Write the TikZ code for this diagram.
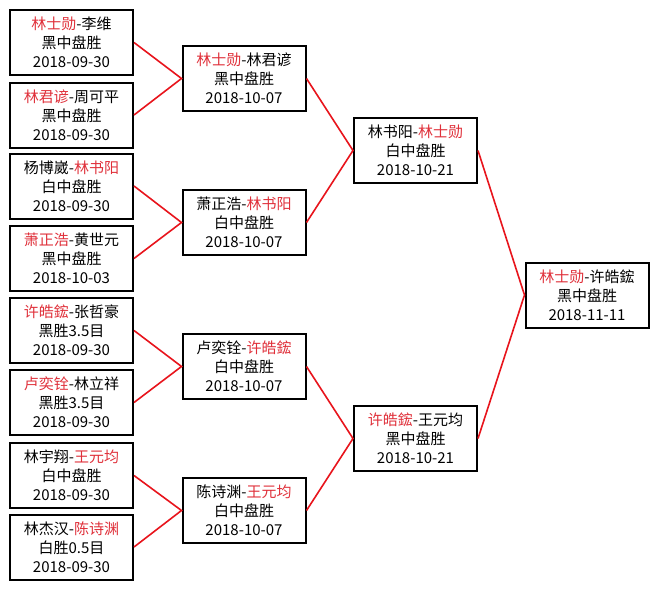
\documentclass[tikz,border=0pt]{standalone}
\usepackage{fontspec}
\usepackage{tikz}
\usepackage{xcolor}
\newfontfamily\cjk{Noto Sans CJK SC}
\definecolor{linkred}{HTML}{E8141C}
\definecolor{winred}{HTML}{E0303A}
\newcommand{\win}[1]{\textcolor{winred}{#1}}
\tikzset{
  game/.style={draw=black,fill=white,line width=2pt,
               minimum width=123pt,minimum height=65pt,inner sep=0pt,
               align=center,font=\cjk\fontsize{15}{19}\selectfont},
  link/.style={draw=linkred,line width=1.6pt}
}

\begin{document}
\begin{tikzpicture}[x=1pt,y=-1pt]
    \path[use as bounding box,fill=white] (0,0) rectangle (659,589);

    % first round
    \node[game] (r1a) at (71.5,42.5)  {\win{林士勋}-李维\\黑中盘胜\\2018-09-30};
    \node[game] (r1b) at (71.5,115)   {\win{林君谚}-周可平\\黑中盘胜\\2018-09-30};
    \node[game] (r1c) at (71.5,186)   {杨博崴-\win{林书阳}\\白中盘胜\\2018-09-30};
    \node[game] (r1d) at (71.5,258.5) {\win{萧正浩}-黄世元\\黑中盘胜\\2018-10-03};
    \node[game] (r1e) at (71.5,330.5) {\win{许皓鋐}-张哲豪\\黑胜3.5目\\2018-09-30};
    \node[game] (r1f) at (71.5,402.5) {\win{卢奕铨}-林立祥\\黑胜3.5目\\2018-09-30};
    \node[game] (r1g) at (71.5,475.5) {林宇翔-\win{王元均}\\白中盘胜\\2018-09-30};
    \node[game] (r1h) at (71.5,547)   {林杰汉-\win{陈诗渊}\\白胜0.5目\\2018-09-30};

    % second round
    \node[game] (r2a) at (244,78.5)  {\win{林士勋}-林君谚\\黑中盘胜\\2018-10-07};
    \node[game] (r2b) at (244,222.5) {萧正浩-\win{林书阳}\\白中盘胜\\2018-10-07};
    \node[game] (r2c) at (244,366.5) {卢奕铨-\win{许皓鋐}\\白中盘胜\\2018-10-07};
    \node[game] (r2d) at (244,510.5) {陈诗渊-\win{王元均}\\白中盘胜\\2018-10-07};

    % semifinals
    \node[game] (r3a) at (415.5,150.5) {林书阳-\win{林士勋}\\白中盘胜\\2018-10-21};
    \node[game] (r3b) at (415.5,438.5) {\win{许皓鋐}-王元均\\黑中盘胜\\2018-10-21};

    % final
    \node[game] (fin) at (587,295) {\win{林士勋}-许皓鋐\\黑中盘胜\\2018-11-11};

    \draw[link] (r1a.east) -- (r2a.west) -- (r1b.east);
    \draw[link] (r1c.east) -- (r2b.west) -- (r1d.east);
    \draw[link] (r1e.east) -- (r2c.west) -- (r1f.east);
    \draw[link] (r1g.east) -- (r2d.west) -- (r1h.east);
    \draw[link] (r2a.east) -- (r3a.west) -- (r2b.east);
    \draw[link] (r2c.east) -- (r3b.west) -- (r2d.east);
    \draw[link] (r3a.east) -- (fin.west) -- (r3b.east);
\end{tikzpicture}
\end{document}
